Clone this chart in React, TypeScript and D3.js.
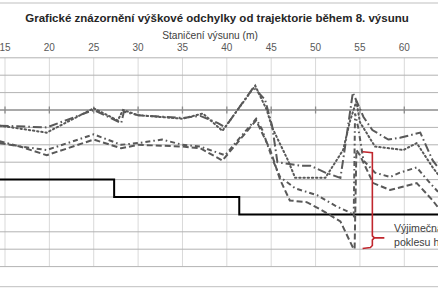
import React from "react";
import * as d3 from "d3";

const W = 438;
const H = 292;

const tickStations = [15, 20, 25, 30, 35, 40, 45, 50, 55, 60];
const gridValues = [30, 20, 10, 0, -10, -20, -30, -40, -50, -60, -70, -80, -90];

const stationsA = [14.4, 19.7, 25.0, 27.7, 28.3, 30.0, 35.0, 37.3, 39.5, 43.2, 44.5, 45.1, 46.9, 47.7, 51.1, 53.1, 53.9, 54.6, 55.0, 56.7, 59.9, 61.4, 63.2, 63.8];
const valuesA = [-9, -13, 1, -6, 0, -3, -5, -2, -12, 14, 0, -10, -29, -39, -39, -23, -6, 5, -7, -21, -23, -19, -33, -37];

const stationsB = [14.4, 19.7, 25.0, 28.1, 28.4, 30.0, 35.0, 37.0, 39.0, 39.8, 43.0, 44.3, 45.1, 45.7, 48.3, 49.4, 51.1, 52.8, 53.1, 54.2, 55.4, 56.4, 58.2, 59.5, 61.8, 63.2, 63.8];
const valuesB = [-9, -10, 0, -7.5, -1, -3, -4.6, -3.4, -7.5, -10, 13, 6, -9, -30, -32, -32, -36, -39, -29, 10, -4, -11.5, -17, -16, -13, -29, -33];

const stationsC = [14.4, 16.7, 19.7, 25.0, 28.1, 30.0, 35.0, 37.0, 39.5, 43.3, 44.9, 46.0, 47.1, 49.0, 50.5, 52.8, 54.2, 54.4, 54.6, 55.0, 56.5, 58.4, 61.4, 63.2, 63.8];
const valuesC = [-19, -21, -26, -17, -22, -20, -21, -22, -29, -6, -23, -40, -52, -53, -57, -64, -79, -80, -23, -26, -42, -46, -42, -52, -56];

const stationsD = [14.4, 16.7, 19.7, 25.0, 28.1, 30.0, 32.7, 35.0, 37.0, 39.8, 43.3, 44.0, 45.2, 46.0, 47.7, 50.2, 52.2, 53.9, 54.3, 54.45, 54.8, 55.4, 56.7, 58.4, 59.5, 61.4, 62.9, 63.8];
const valuesD = [-18, -21, -23, -14, -20, -19, -17, -20, -21, -26, -5, -11.5, -29, -38.5, -45, -49, -55, -59, -61, -2, -10, -29, -36, -38.5, -36, -33, -42, -47];

const limitStations = [14.4, 27.3, 27.3, 41.4, 41.4, 63.8];
const limitValues = [-40, -40, -50, -50, -60, -60];

const x = d3.scaleLinear().domain([15, 60]).range([5, 404.3]);
const y = d3.scaleLinear().domain([30, -90]).range([57.8, 266.6]);

const line = d3
  .line<[number, number]>()
  .x((d) => x(d[0]))
  .y((d) => y(d[1]));

const zip = (s: number[], v: number[]): [number, number][] => s.map((st, i) => [st, v[i]]);

const series = [
  { s: stationsA, v: valuesA, dash: "1.4 2.8", cap: "round" },
  { s: stationsB, v: valuesB, dash: "9 3 1.6 3", cap: "butt" },
  { s: stationsC, v: valuesC, dash: "6 3", cap: "butt" },
  { s: stationsD, v: valuesD, dash: "5 3 1.6 3", cap: "butt" },
];

export default function App() {
  const top = y(30);
  const bottom = y(-90);
  const bx = x(56.4);
  const bTop = y(-24);
  const bBot = y(-79);
  const bMid = y(-73.5);
  const brace = `M${x(55.3)},${bTop} L${bx},${bTop + 1} L${bx},${bMid - 2} L${bx + 2},${bMid} L${bx + 12},${bMid} M${bx + 2},${bMid} L${bx},${bMid + 2} L${bx},${bBot - 2} L${bx - 2},${bBot} L${x(55.3)},${bBot + 1}`;
  return (
    <svg width={W} height={H} style={{ position: "absolute", left: 0, top: 0 }} fontFamily="Liberation Sans, Arial, sans-serif">
      <rect width={W} height={H} fill="#fff" />
      <line x1={0} x2={W} y1={3} y2={3} stroke="#bfbfbf" />
      <line x1={0} x2={W} y1={286.7} y2={286.7} stroke="#bfbfbf" />
      <text x={217} y={21.5} textAnchor="middle" fontSize={11.5} fontWeight="bold" fill="#262626">
        Grafické znázornění výškové odchylky od trajektorie během 8. výsunu
      </text>
      <text x={210} y={38.5} textAnchor="middle" fontSize={10.2} fill="#404040">
        Staničení výsunu (m)
      </text>
      {tickStations.map((t) => (
        <text key={t} x={x(t)} y={51} textAnchor="middle" fontSize={10} fill="#595959">
          {t}
        </text>
      ))}
      {tickStations.map((t) => (
        <line key={"v" + t} x1={x(t)} x2={x(t)} y1={top} y2={bottom} stroke="#d9d9d9" />
      ))}
      {gridValues.map((g) => (
        <line key={"h" + g} x1={0} x2={W} y1={y(g)} y2={y(g)} stroke={g === 0 ? "#8c8c8c" : "#b3b3b3"} strokeWidth={g === 0 ? 1.3 : 1} />
      ))}
      {tickStations.map((t) => (
        <line key={"t" + t} x1={x(t)} x2={x(t)} y1={y(0) - 3.5} y2={y(0) + 3.5} stroke="#8c8c8c" strokeWidth={1.3} />
      ))}
      <path d={line(zip(limitStations, limitValues)) || ""} fill="none" stroke="#000" strokeWidth={2} />
      {series.map((sr, i) => (
        <path
          key={i}
          d={line(zip(sr.s, sr.v)) || ""}
          fill="none"
          stroke="#595959"
          strokeWidth={2}
          strokeDasharray={sr.dash}
          strokeLinecap={sr.cap as any}
        />
      ))}
      <path d={brace} fill="none" stroke="#c0262d" strokeWidth={1.6} />
      <text x={394} y={232} fontSize={10.6} fill="#404040">Výjimečná hodnota</text>
      <text x={394} y={246} fontSize={10.6} fill="#404040">poklesu hlavy</text>
    </svg>
  );
}
